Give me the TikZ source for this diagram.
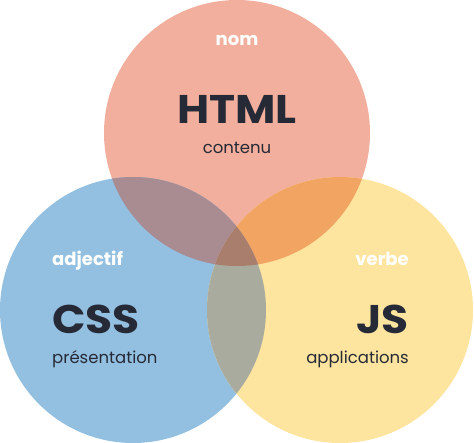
\documentclass[tikz,border=0pt]{standalone}
\usepackage{fontspec}
\setmainfont{Poppins}
\newfontfamily\headfont[FakeStretch=1.1]{Poppins}
\definecolor{salmon}{HTML}{F2AF9D}
\definecolor{sky}{HTML}{93BFE0}
\definecolor{sand}{HTML}{FDE49F}
\definecolor{mauve}{HTML}{A98B92}
\definecolor{amber}{HTML}{F2A463}
\definecolor{olive}{HTML}{A9AB9E}
\definecolor{umber}{HTML}{A97E6D}
\definecolor{ink}{HTML}{262A36}
\begin{document}
\begin{tikzpicture}[x=1pt,y=-1pt]
    \tikzstyle{big} = [font=\headfont\fontsize{40}{40}\selectfont\bfseries,
        text=ink, inner sep=0pt]
    \tikzstyle{small} = [font=\fontsize{16.5}{16.5}\selectfont, text=ink,
        inner sep=0pt]
    \tikzstyle{tag} = [font=\fontsize{18}{18}\selectfont\bfseries, text=white,
        inner sep=0pt]

    \useasboundingbox (0,0) rectangle (474,442);

    \coordinate (chtml) at (237,133);
    \coordinate (ccss) at (133,310);
    \coordinate (cjs) at (340,310);

    \fill[salmon] (chtml) circle (133pt);
    \fill[sky] (ccss) circle (133pt);
    \fill[sand] (cjs) circle (133pt);

    % overlaps
    \begin{scope}
        \clip (chtml) circle (133pt);
        \fill[mauve] (ccss) circle (133pt);
        \fill[amber] (cjs) circle (133pt);
    \end{scope}
    \begin{scope}
        \clip (ccss) circle (133pt);
        \fill[olive] (cjs) circle (133pt);
    \end{scope}
    \begin{scope}
        \clip (chtml) circle (133pt);
        \clip (ccss) circle (133pt);
        \fill[umber] (cjs) circle (133pt);
    \end{scope}

    \node(nom) [tag] at (237,45) [anchor=base] {nom};
    \node(html) [big] at (237,123) [anchor=base] {HTML};
    \node(contenu) [small] at (237,153) [anchor=base] {contenu};

    \node(adjectif) [tag] at (52,265) [anchor=base west] {adjectif};
    \node(css) [big] at (52,333) [anchor=base west] {CSS};
    \node(presentation) [small] at (52,363) [anchor=base west] {présentation};

    \node(verbe) [tag] at (409,265) [anchor=base east] {verbe};
    \node(js) [big] at (409,333) [anchor=base east] {JS};
    \node(applications) [small] at (409,363) [anchor=base east] {applications};
\end{tikzpicture}
\end{document}
